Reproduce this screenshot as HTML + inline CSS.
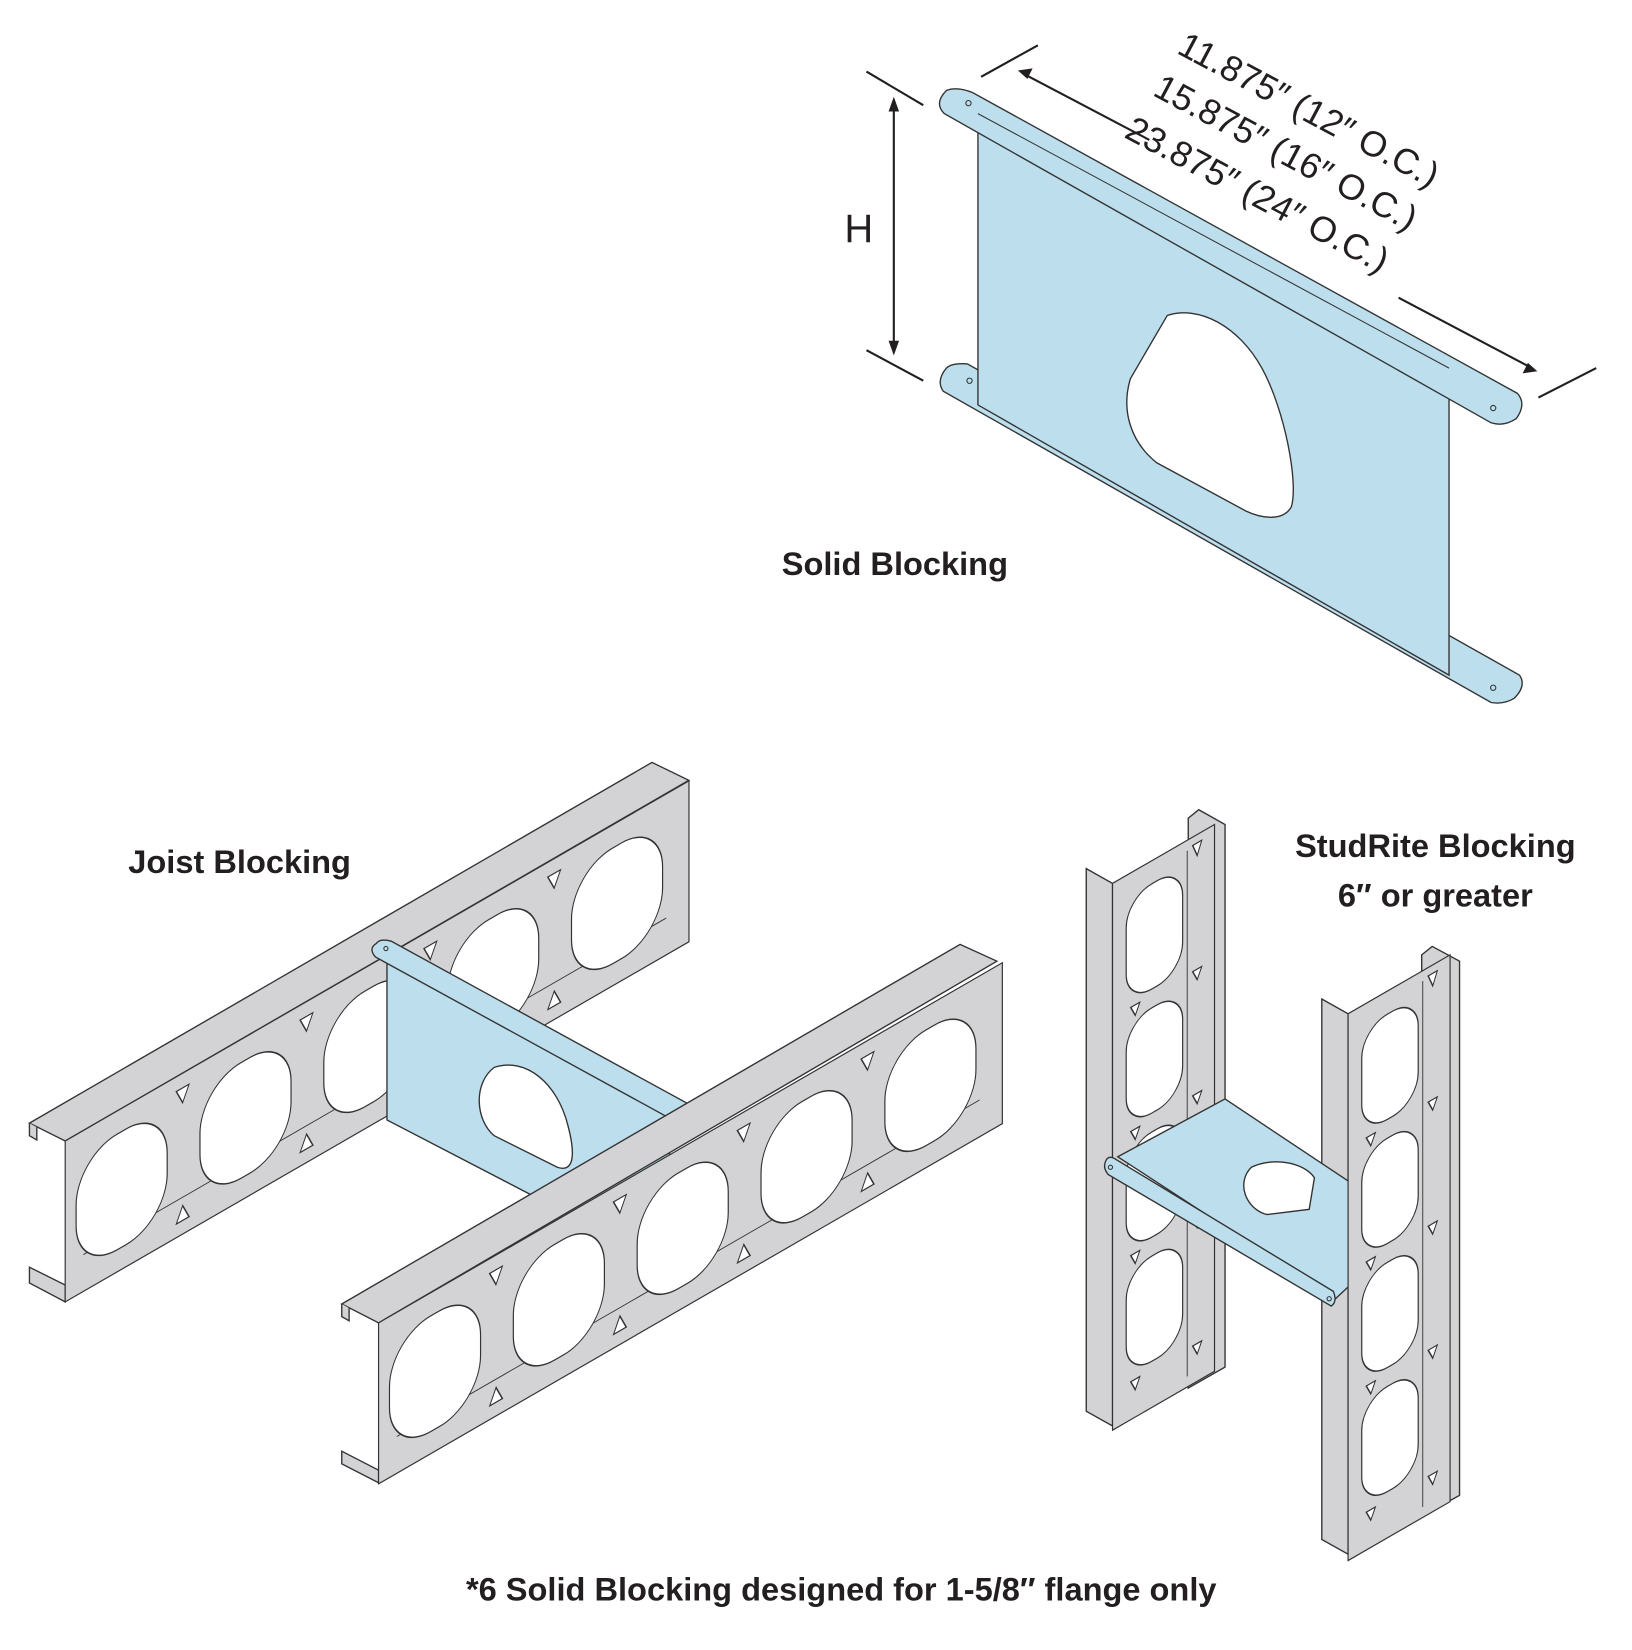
<!DOCTYPE html>
<html><head><meta charset="utf-8"><style>
html,body{margin:0;padding:0;background:#fff}
svg{display:block}
.t{font-family:"Liberation Sans Narrow","Liberation Sans",sans-serif;fill:#231f20}
.b{font-weight:bold}
</style></head><body>
<svg width="1632" height="1650" viewBox="0 0 1552 1569" xmlns="http://www.w3.org/2000/svg">
<defs>
<g id="jface">
  <rect x="0" y="0" width="685" height="153" fill="#d3d3d5" stroke="#333" stroke-width="1.3"/>
  <line x1="20" y1="118" x2="660" y2="118" stroke="#333" stroke-width="1"/>
  <g fill="#fff" stroke="#333" stroke-width="1.3">
    <rect x="12" y="22" width="100" height="110" rx="45"/>
    <rect x="148" y="22" width="100" height="110" rx="45"/>
    <rect x="284" y="22" width="100" height="110" rx="45"/>
    <rect x="420" y="22" width="100" height="110" rx="45"/>
    <rect x="556" y="22" width="100" height="110" rx="45"/>
    <path d="M122,14 l14,0 l-7,14 z M258,14 l14,0 l-7,14 z M394,14 l14,0 l-7,14 z M530,14 l14,0 l-7,14 z"/>
    <path d="M122,140 l14,0 l-7,-14 z M258,140 l14,0 l-7,-14 z M394,140 l14,0 l-7,-14 z M530,140 l14,0 l-7,-14 z"/>
  </g>
</g>
<g id="sface">
  <rect x="0" y="0" width="112" height="520" fill="#d3d3d5" stroke="#333" stroke-width="1.3"/>
  <line x1="82" y1="10" x2="82" y2="510" stroke="#333" stroke-width="1"/>
  <g fill="#fff" stroke="#333" stroke-width="1.3">
    <rect x="15" y="22" width="62" height="100" rx="28"/>
    <rect x="15" y="140" width="62" height="100" rx="28"/>
    <rect x="15" y="258" width="62" height="100" rx="28"/>
    <rect x="15" y="376" width="62" height="100" rx="28"/>
    <path d="M88,8 l10,0 l-5,12 z M20,128 l10,0 l-5,10 z M88,128 l10,0 l-5,10 z M20,246 l10,0 l-5,10 z M88,246 l10,0 l-5,10 z M20,364 l10,0 l-5,10 z M88,364 l10,0 l-5,10 z M20,484 l10,0 l-5,10 z M88,484 l10,0 l-5,10 z"/>
  </g>
</g>
</defs>

<!-- Solid Blocking top -->
<g stroke="#333" stroke-width="1.3">
  <path d="M900,350 Q905,345 920,346 L1445,642 Q1452,652 1440,664 Q1430,670 1418,668 L897,372 Q890,362 900,350 Z" fill="#bcdeed"/>
  <path d="M930,122 L1378,366 L1378,642 L930,385 Z" fill="#bcdeed"/>
  <path d="M1110,300 C1140,290 1178,310 1200,350 C1222,390 1235,460 1228,482 C1220,496 1200,493 1185,486 L1100,440 C1075,420 1066,390 1075,360 Z" fill="#fff"/>
  <path d="M900,86 Q910,82 925,88 L1443,374 Q1452,384 1442,398 Q1430,406 1418,402 L898,108 Q888,98 900,86 Z" fill="#bcdeed"/>
  <line x1="930" y1="108" x2="1378" y2="350" stroke-width="1"/>
</g>
<g fill="none" stroke="#333" stroke-width="1">
  <circle cx="921" cy="98" r="2.5"/><circle cx="1420" cy="388" r="2.5"/>
  <circle cx="922" cy="362" r="2.5"/><circle cx="1420" cy="654" r="2.5"/>
</g>
<!-- dimensions -->
<g stroke="#231f20" stroke-width="2" fill="none">
  <line x1="824" y1="68" x2="878" y2="100"/>
  <line x1="824" y1="333" x2="878" y2="362"/>
  <line x1="850" y1="100" x2="850" y2="330"/>
  <line x1="933" y1="73" x2="987" y2="43"/>
  <line x1="1463" y1="378" x2="1518" y2="350"/>
  <line x1="975" y1="71" x2="1093" y2="133"/>
  <line x1="1330" y1="283" x2="1455" y2="349"/>
</g>
<g fill="#231f20">
  <path d="M850,92 l-5,14 l10,0 z M850,338 l-5,-14 l10,0 z"/>
  <path d="M968,67 l14,-2 l-5,10 z M1462,353 l-14,2 l5,-10 z"/>
</g>
<text class="t" x="803" y="230" font-size="38">H</text>
<g class="t" font-size="34" transform="rotate(28)">
</g>
<text class="t" font-size="34" transform="translate(1118,50) rotate(28)">11.875″ (12″ O.C.)</text>
<text class="t" font-size="34" transform="translate(1095,90) rotate(28)">15.875″ (16″ O.C.)</text>
<text class="t" font-size="34" transform="translate(1068,130) rotate(28)">23.875″ (24″ O.C.)</text>
<text class="t b" x="851" y="547" font-size="31" text-anchor="middle">Solid Blocking</text>

<!-- Joist 1 -->
<g stroke="#333" stroke-width="1.3" fill="#d3d3d5">
  <path d="M28,1205 L62,1222 L62,1238 L28,1220 Z"/>
  <path d="M28,1068 L620,725 L655,742 L62,1085 Z"/>
  <path d="M28,1068 L28,1080 L35,1084 L35,1072"/>
</g>
<use href="#jface" transform="matrix(0.866,-0.5,0,1,62,1085)"/>
<!-- blue panel -->
<g stroke="#333" stroke-width="1.3">
  <path d="M368,910 L640,1058 L628,1200 L368,1065 Z" fill="#bcdeed"/>
  <path d="M470,1015 C500,1005 530,1030 540,1070 C548,1100 545,1115 530,1110 L470,1080 C452,1065 450,1030 470,1015 Z" fill="#fff"/>
  <path d="M358,897 Q362,892 372,895 L655,1050 Q662,1058 652,1065 Q645,1068 638,1064 L357,910 Q350,902 358,897 Z" fill="#bcdeed"/>
</g>
<circle cx="367" cy="902" r="2" fill="none" stroke="#333"/><circle cx="645" cy="1057" r="2" fill="none" stroke="#333"/>
<!-- Joist 2 -->
<g stroke="#333" stroke-width="1.3" fill="#d3d3d5">
  <path d="M325,1380 L360,1398 L360,1410 L325,1392 Z"/>
  <path d="M325,1240 L913,898 L948,914 L360,1258 Z"/>
  <path d="M325,1240 L325,1252 L332,1256 L332,1244"/>
</g>
<use href="#jface" transform="matrix(0.866,-0.5,0,1,360,1258)"/>
<text class="t b" x="122" y="830" font-size="31">Joist Blocking</text>

<!-- Studs -->
<g stroke="#333" stroke-width="1.3" fill="#d3d3d5">
  <path d="M1033,826 L1058,840 L1058,1356 L1033,1342 Z"/>
  <path d="M1130,778 L1140,770 L1165,784 L1165,1300 L1130,1320 Z"/>
  <path d="M1257,950 L1282,964 L1282,1478 L1257,1464 Z"/>
  <path d="M1352,908 L1362,900 L1388,914 L1388,1422 L1352,1442 Z"/>
</g>
<use href="#sface" transform="matrix(0.866,-0.5,0,1,1058,840)"/>
<g stroke="#333" stroke-width="1.3">
  <path d="M1063,1100 L1165,1045 L1345,1165 L1270,1235 Z" fill="#bcdeed"/>
  <path d="M1190,1110 C1210,1100 1240,1105 1250,1120 L1245,1150 L1205,1155 C1185,1150 1175,1125 1190,1110 Z" fill="#fff"/>
</g>
<use href="#sface" transform="matrix(0.866,-0.5,0,1,1282,964)"/>
<g stroke="#333" stroke-width="1.3">
  <path d="M1052,1103 Q1055,1098 1062,1103 L1268,1228 Q1272,1238 1266,1242 L1054,1117 Q1048,1110 1052,1103 Z" fill="#bcdeed"/>
</g>
<circle cx="1056" cy="1110" r="2" fill="none" stroke="#333"/><circle cx="1264" cy="1235" r="2" fill="none" stroke="#333"/>
<text class="t b" x="1365" y="815" font-size="31" text-anchor="middle">StudRite Blocking</text>
<text class="t b" x="1365" y="862" font-size="31" text-anchor="middle">6″ or greater</text>

<text class="t b" x="800" y="1522" font-size="31" text-anchor="middle">*6 Solid Blocking designed for 1-5/8″ flange only</text>
</svg>
</body></html>
